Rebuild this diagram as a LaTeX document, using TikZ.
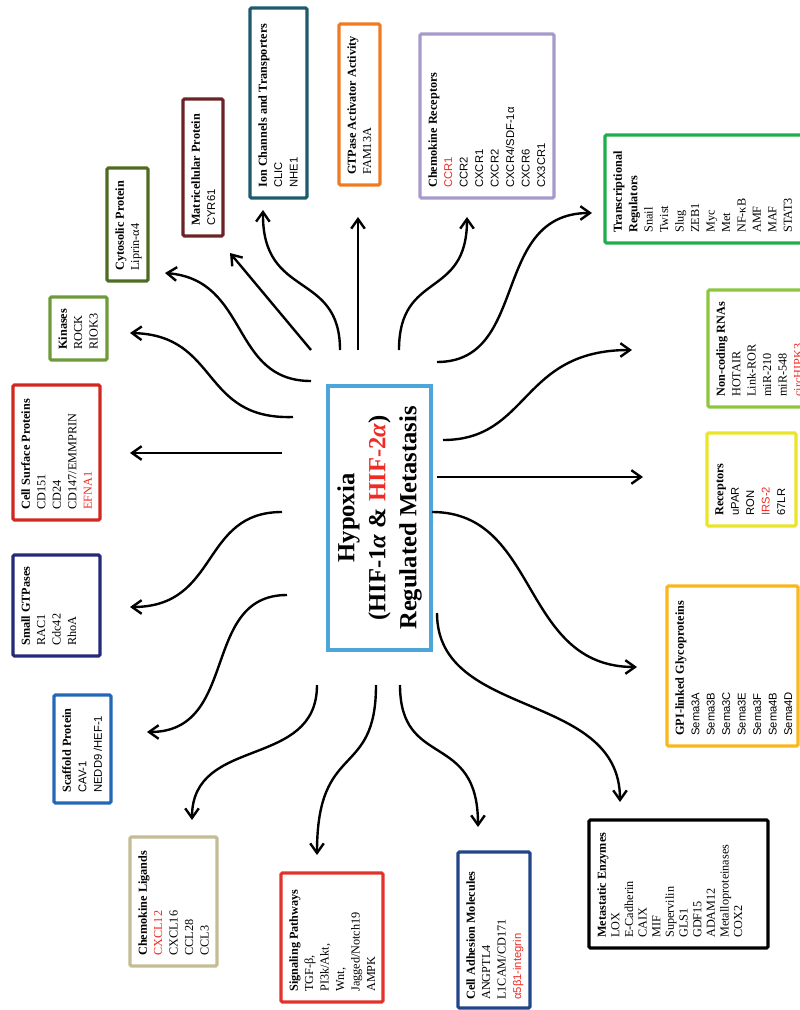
\documentclass[tikz,border=0pt]{standalone}
\usepackage{fontspec}
\setmainfont{Liberation Serif}
\newfontfamily\sansf{Liberation Sans}
\usetikzlibrary{arrows.meta}

\definecolor{hired}{HTML}{EE2B24}
\definecolor{hubblue}{HTML}{4DA6DA}
\definecolor{cspred}{HTML}{D0281E}
\definecolor{kingreen}{HTML}{6E9B3A}
\definecolor{cytgreen}{HTML}{4F6B22}
\definecolor{matbrown}{HTML}{6B2326}
\definecolor{ionteal}{HTML}{1D5A6B}
\definecolor{gaporange}{HTML}{F07A22}
\definecolor{ckrlilac}{HTML}{A799CB}
\definecolor{trrgreen}{HTML}{1FAE4B}
\definecolor{ncrgreen}{HTML}{8CC63F}
\definecolor{recyellow}{HTML}{E9E52B}
\definecolor{gpiamber}{HTML}{F9B71B}
\definecolor{camblue}{HTML}{22458A}
\definecolor{sigred}{HTML}{E3322A}
\definecolor{cklkhaki}{HTML}{C4BC95}
\definecolor{scfblue}{HTML}{2367B7}
\definecolor{sgtnavy}{HTML}{242A78}

\newcommand{\hot}[1]{\textcolor{hired}{#1}}
\newcommand{\sff}[1]{{\sansf\fontsize{8}{11}\selectfont #1}}

\begin{document}
\begin{tikzpicture}[x=0.025cm, y=-0.025cm,
  box/.style={line width=2.2pt, rounded corners=1pt},
  lst/.style={rotate=90, anchor=north west, inner sep=0pt, align=left,
    font=\fontsize{8.7}{11}\selectfont},
  hub/.style={draw=hubblue, line width=2.8pt, rotate=90, minimum width=6.6cm,
    minimum height=2.575cm, align=center, font=\fontsize{17.5}{22}\selectfont\bfseries},
  link/.style={line width=1.7pt, -{Straight Barb[length=2.4mm,width=3.4mm]}}]

\useasboundingbox (0,0) rectangle (800,1010);
\clip (0,0) rectangle (800,1010);

\node[hub] (hyp) at (379.5,518) {Hypoxia\\(HIF-1{\itshape α} \& \hot{HIF-2{\itshape α}})\\Regulated Metastasis};

% frames round the lists
\foreach \xa/\ya/\xb/\yb/\c in {13/385/100/520/cspred, 50/297/107/360/kingreen,
  107/168/148/281/cytgreen, 183/99/223/236/matbrown, 250/8/307/198/ionteal,
  339/24/380/185/gaporange, 420/34/554/198/ckrlilac, 605/135/803/243/trrgreen,
  708/290/803/407/ncrgreen, 707/433/796/526/recyellow, 667/586/798/746/gpiamber,
  589/820/768/948/black, 458/852/530/1008/camblue, 281/873/383/1002/sigred,
  130/837/217/966/cklkhaki, 54/695/111/803/scfblue, 13/555/100/656/sgtnavy} {
\draw[box, draw=\c] (\xa,\ya) rectangle (\xb,\yb);
}

% lists
\node[lst] (csp) at (21,510) {\textbf{Cell Surface Proteins}\\CD151\\CD24\\CD147/EMMPRIN\\\hot{EFNA1}};
\node[lst] (kin) at (58,350) {\textbf{Kinases}\\ROCK\\RIOK3};
\node[lst] (cyt) at (115,271) {\textbf{Cytosolic Protein}\\Liprin-α4};
\node[lst] (mat) at (191,226) {\textbf{Matricellular Protein}\\\sff{CYR61}};
\node[lst] (ion) at (258,188) {\textbf{Ion Channels and Transporters}\\\sff{CLIC}\\\sff{NHE1}};
\node[lst] (gap) at (347,175) {\textbf{GTPase Activator Activity}\\FAM13A};
\node[lst] (ckr) at (428,188) {\textbf{Chemokine Receptors}\\\hot{\sff{CCR1}}\\\sff{CCR2}\\\sff{CXCR1}\\\sff{CXCR2}\\\sff{CXCR4/SDF-1α}\\\sff{CXCR6}\\\sff{CX3CR1}};
\node[lst] (trr) at (613,233) {\textbf{Transcriptional}\\\textbf{Regulators}\\Snail\\Twist\\Slug\\ZEB1\\Myc\\Met\\NF-κB\\AMF\\MAF\\STAT3};
\node[lst] (ncr) at (716,397) {\textbf{Non-coding RNAs}\\HOTAIR\\Link-ROR\\miR-210\\miR-548\\\hot{circHIPK3}};
\node[lst] (rec) at (715,516) {\textbf{Receptors}\\\sff{uPAR}\\\sff{RON}\\\hot{\sff{IRS-2}}\\\sff{67LR}};
\node[lst] (gpi) at (675,736) {\textbf{GPI-linked Glycoproteins}\\\sff{Sema3A}\\\sff{Sema3B}\\\sff{Sema3C}\\\sff{Sema3E}\\\sff{Sema3F}\\\sff{Sema4B}\\\sff{Sema4D}};
\node[lst, font=\fontsize{8.7}{9.7}\selectfont] (mez) at (597,938) {\textbf{Metastatic Enzymes}\\LOX\\E-Cadherin\\CAIX\\MIF\\Supervilin\\GLS1\\GDF15\\ADAM12\\Metalloproteinases\\COX2};
\node[lst] (cam) at (466,1000) {\textbf{Cell Adhesion Molecules}\\ANGPTL4\\L1CAM/CD171\\\hot{\sff{α5β1-integrin}}};
\node[lst] (sig) at (289,992) {\textbf{Signaling Pathways}\\TGF-β,\\PI3k/Akt,\\Wnt,\\Jagged/Notch19\\AMPK};
\node[lst] (ckl) at (138,956) {\textbf{Chemokine Ligands}\\\hot{CXCL12}\\CXCL16\\CCL28\\CCL3};
\node[lst] (scf) at (62,793) {\textbf{Scaffold Protein}\\\sff{CAV-1}\\\sff{NEDD9 /HEF-1}};
\node[lst] (sgt) at (21,646) {\textbf{Small GTPases}\\RAC1\\Cdc42\\RhoA};

% spoke ends: h.. next to the hub, t.. next to the list
\coordinate (hcsp) at (282,453); \coordinate (tcsp) at (130,453);
\coordinate (hkin) at (293,417); \coordinate (tkin) at (130,333);
\coordinate (hcyt) at (311,381); \coordinate (tcyt) at (165,273);
\coordinate (hmat) at (311,350); \coordinate (tmat) at (230,253);
\coordinate (hion) at (340,350); \coordinate (tion) at (263,210);
\coordinate (hgap) at (358,350); \coordinate (tgap) at (358,217);
\coordinate (hckr) at (399,350); \coordinate (tckr) at (467,217);
\coordinate (htrr) at (437,362); \coordinate (ttrr) at (592,213);
\coordinate (hncr) at (443,440); \coordinate (tncr) at (632,350);
\coordinate (hrec) at (437,477); \coordinate (trec) at (643,477);
\coordinate (hgpi) at (432,512); \coordinate (tgpi) at (637,667);
\coordinate (hmez) at (437,613); \coordinate (tmez) at (620,802);
\coordinate (hcam) at (400,685); \coordinate (tcam) at (478,827);
\coordinate (hsig) at (376,685); \coordinate (tsig) at (317,855);
\coordinate (hckl) at (317,685); \coordinate (tckl) at (192,820);
\coordinate (hscf) at (287,595); \coordinate (tscf) at (147,732);
\coordinate (hsgt) at (282,512); \coordinate (tsgt) at (130,607);

% spokes
\draw[link] (hcsp) -- (tcsp);
\draw[link] (hkin) .. controls (200,420) and (220,335) .. (tkin);
\draw[link] (hcyt) .. controls (230,381) and (250,280) .. (tcyt);
\draw[link] (hmat) -- (tmat);
\draw[link] (hion) .. controls (340,270) and (262,300) .. (tion);
\draw[link] (hgap) -- (tgap);
\draw[link] (hckr) .. controls (399,270) and (467,300) .. (tckr);
\draw[link] (htrr) .. controls (530,362) and (490,213) .. (ttrr);
\draw[link] (hncr) .. controls (530,440) and (520,350) .. (tncr);
\draw[link] (hrec) -- (trec);
\draw[link] (hgpi) .. controls (540,512) and (520,667) .. (tgpi);
\draw[link] (hmez) .. controls (437,720) and (620,690) .. (tmez);
\draw[link] (hcam) .. controls (400,770) and (478,730) .. (tcam);
\draw[link] (hsig) .. controls (376,780) and (317,740) .. (tsig);
\draw[link] (hckl) .. controls (317,770) and (192,735) .. (tckl);
\draw[link] (hscf) .. controls (200,595) and (240,732) .. (tscf);
\draw[link] (hsgt) .. controls (200,512) and (220,607) .. (tsgt);

\end{tikzpicture}
\end{document}
